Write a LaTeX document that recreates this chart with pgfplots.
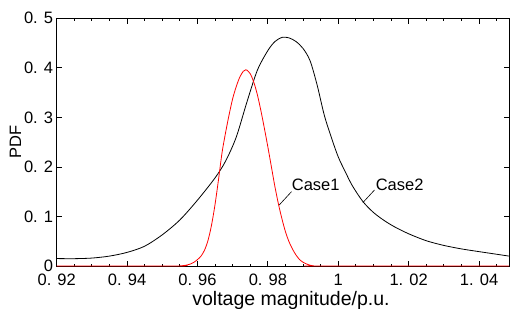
\documentclass[border=0pt]{standalone}
\usepackage{pgfplots}
\pgfplotsset{compat=1.18}
\usepackage{fontspec}
\setmainfont{Liberation Sans}
\newcommand{\tf}{\fontsize{16.5bp}{19bp}\selectfont}
\newcommand{\lf}{\fontsize{19.5bp}{22bp}\selectfont}
\begin{document}
\begin{tikzpicture}
\begin{axis}[
  at={(0,0)}, anchor=south west,
  scale only axis, width=452.3bp, height=247.7bp,
  xmin=0.92, xmax=1.0485, ymin=0, ymax=0.5,
  xtick={0.92,0.94,0.96,0.98,1,1.02,1.04},
  xticklabels={0. 92,0. 94,0. 96,0. 98,1,1. 02,1. 04},
  minor xtick={0.925,0.93,0.935,0.945,0.95,0.955,0.965,0.97,0.975,0.985,0.99,0.995,1.005,1.01,1.015,1.025,1.03,1.035,1.045},
  ytick={0,0.1,0.2,0.3,0.4,0.5},
  yticklabels={0,0. 1,0. 2,0. 3,0. 4,0. 5},
  tick align=inside,
  major tick length=5.5bp, minor tick length=2.5bp,
  every tick/.style={black, line width=0.8bp},
  axis line style={black, line width=1bp},
  xticklabel style={font=\tf, anchor=base, inner sep=0pt, yshift=-19bp},
  yticklabel style={font=\tf, anchor=east, inner sep=0pt, xshift=-3.4bp},
  xlabel={voltage magnitude/p.u.},
  ylabel={PDF},
  xlabel style={font=\lf, at={(axis description cs:0.518,0)}, anchor=base, inner sep=0pt, yshift=-39bp},
  ylabel style={font=\tf, at={(axis description cs:-0.0911,0.5)}, anchor=center, inner sep=0pt},
  clip=false,
]
\addplot[black, line width=0.8bp, smooth] coordinates {
(0.920,0.0150) (0.925,0.0148) (0.930,0.0160) (0.935,0.0200) (0.940,0.0275)
(0.945,0.0400) (0.950,0.0630) (0.955,0.0930) (0.960,0.1330) (0.965,0.1780)
(0.968,0.2120) (0.971,0.2600) (0.974,0.3300) (0.977,0.3950) (0.980,0.4350)
(0.982,0.4530) (0.984,0.4615) (0.986,0.4605) (0.988,0.4530) (0.990,0.4390)
(0.992,0.4140) (0.994,0.3650) (0.996,0.3050) (0.998,0.2600) (1.000,0.2200)
(1.002,0.1900) (1.004,0.1620) (1.007,0.1300) (1.010,0.1080) (1.013,0.0920)
(1.016,0.0790) (1.020,0.0650) (1.025,0.0510) (1.030,0.0415) (1.035,0.0345)
(1.040,0.0290) (1.0485,0.0200)
};
\addplot[red, line width=0.8bp, smooth] coordinates {
(0.920,0) (0.954,0) (0.955,0.0003) (0.956,0.0008) (0.957,0.0020) (0.958,0.0040)
(0.959,0.0075) (0.960,0.0130) (0.961,0.0200) (0.962,0.0320) (0.963,0.0520)
(0.964,0.0830) (0.965,0.1250) (0.966,0.1760) (0.967,0.2300) (0.968,0.2700)
(0.969,0.3060) (0.970,0.3380) (0.971,0.3620) (0.972,0.3810) (0.973,0.3930)
(0.9737,0.3960) (0.974,0.3955) (0.975,0.3880) (0.976,0.3710) (0.977,0.3460)
(0.978,0.3140) (0.979,0.2780) (0.980,0.2400) (0.981,0.2000) (0.982,0.1600)
(0.983,0.1250) (0.984,0.0950) (0.985,0.0690) (0.986,0.0490) (0.987,0.0340)
(0.988,0.0220) (0.989,0.0130) (0.990,0.0075) (0.991,0.0040) (0.992,0.0015)
(0.993,0.0003) (0.994,0) (1.0485,0)
};
\draw[black, line width=0.6bp] (axis cs:0.9832,0.123) -- (axis cs:0.9867,0.150);
\node[anchor=base west, inner sep=0pt, font=\tf] at (axis cs:0.98675,0.1515) {Case1};
\draw[black, line width=0.6bp] (axis cs:1.00698,0.128) -- (axis cs:1.0103,0.1535);
\node[anchor=base west, inner sep=0pt, font=\tf] at (axis cs:1.0106,0.1515) {Case2};
\end{axis}
\pgfresetboundingbox
\useasboundingbox (-56.7bp,-43bp) rectangle (453.3bp,266bp);
\end{tikzpicture}
\end{document}
